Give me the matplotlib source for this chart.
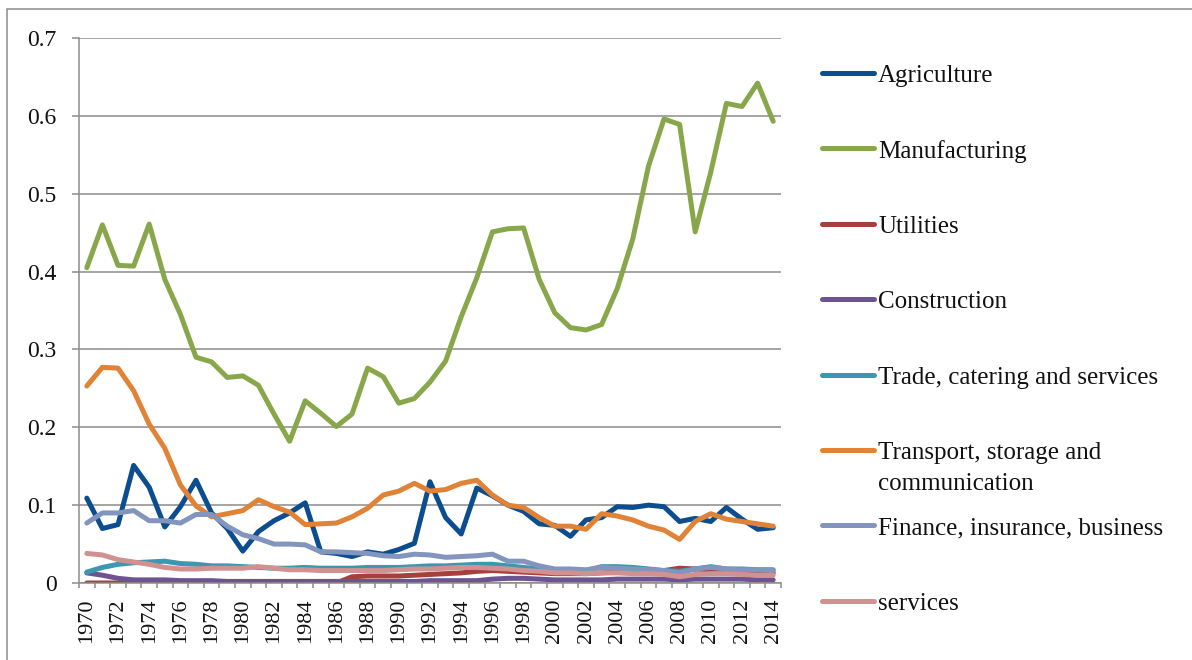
import numpy as np
import matplotlib
matplotlib.use("Agg")
import matplotlib.pyplot as plt
from matplotlib.lines import Line2D
from matplotlib.patches import Rectangle

years = list(range(1970, 2015))

agriculture = [0.109, 0.070, 0.075, 0.151, 0.123, 0.072, 0.098, 0.132, 0.090, 0.070,
               0.041, 0.066, 0.080, 0.090, 0.103, 0.040, 0.038, 0.034, 0.040, 0.037,
               0.043, 0.051, 0.130, 0.084, 0.063, 0.122, 0.112, 0.100, 0.092, 0.076,
               0.074, 0.060, 0.081, 0.084, 0.098, 0.097, 0.100, 0.098, 0.079, 0.083,
               0.079, 0.097, 0.082, 0.069, 0.071]
manufacturing = [0.405, 0.460, 0.408, 0.407, 0.461, 0.390, 0.345, 0.290, 0.284, 0.264,
                 0.266, 0.254, 0.217, 0.182, 0.234, 0.218, 0.201, 0.217, 0.276, 0.265,
                 0.231, 0.237, 0.258, 0.285, 0.342, 0.392, 0.451, 0.455, 0.456, 0.390,
                 0.347, 0.328, 0.325, 0.332, 0.378, 0.442, 0.535, 0.596, 0.589, 0.451,
                 0.528, 0.616, 0.612, 0.642, 0.593]
utilities = [0.000, 0.000, 0.000, 0.000, 0.000, 0.000, 0.000, 0.000, 0.000, 0.000,
             0.000, 0.000, 0.000, 0.000, 0.000, 0.000, 0.000, 0.008, 0.009, 0.009,
             0.009, 0.010, 0.011, 0.012, 0.013, 0.015, 0.016, 0.015, 0.014, 0.013,
             0.012, 0.012, 0.012, 0.013, 0.014, 0.014, 0.015, 0.016, 0.019, 0.018,
             0.017, 0.016, 0.015, 0.014, 0.013]
construction = [0.013, 0.010, 0.006, 0.004, 0.004, 0.004, 0.003, 0.003, 0.003, 0.002,
                0.002, 0.002, 0.002, 0.002, 0.002, 0.002, 0.002, 0.002, 0.002, 0.002,
                0.002, 0.002, 0.003, 0.003, 0.003, 0.003, 0.005, 0.006, 0.006, 0.005,
                0.004, 0.004, 0.004, 0.004, 0.005, 0.005, 0.005, 0.005, 0.004, 0.005,
                0.005, 0.005, 0.005, 0.004, 0.004]
trade = [0.014, 0.020, 0.024, 0.026, 0.027, 0.028, 0.025, 0.024, 0.022, 0.022,
         0.021, 0.020, 0.019, 0.019, 0.020, 0.019, 0.019, 0.019, 0.020, 0.020,
         0.020, 0.021, 0.022, 0.022, 0.023, 0.024, 0.024, 0.022, 0.020, 0.018,
         0.016, 0.016, 0.016, 0.021, 0.021, 0.020, 0.018, 0.016, 0.015, 0.018,
         0.021, 0.018, 0.018, 0.017, 0.017]
transport = [0.253, 0.277, 0.276, 0.247, 0.204, 0.173, 0.126, 0.099, 0.085, 0.089,
             0.093, 0.107, 0.098, 0.091, 0.075, 0.076, 0.077, 0.085, 0.096, 0.113,
             0.118, 0.128, 0.118, 0.120, 0.128, 0.132, 0.113, 0.100, 0.097, 0.084,
             0.073, 0.073, 0.069, 0.089, 0.086, 0.081, 0.073, 0.068, 0.056, 0.079,
             0.089, 0.082, 0.079, 0.076, 0.073]
finance = [0.077, 0.090, 0.090, 0.093, 0.080, 0.080, 0.077, 0.088, 0.088, 0.073,
           0.062, 0.057, 0.050, 0.050, 0.049, 0.040, 0.040, 0.039, 0.038, 0.035,
           0.034, 0.037, 0.036, 0.033, 0.034, 0.035, 0.037, 0.028, 0.028, 0.022,
           0.018, 0.018, 0.017, 0.020, 0.019, 0.018, 0.017, 0.016, 0.013, 0.018,
           0.020, 0.018, 0.017, 0.017, 0.016]
services = [0.038, 0.036, 0.030, 0.027, 0.024, 0.020, 0.018, 0.018, 0.019, 0.019,
            0.019, 0.021, 0.019, 0.017, 0.017, 0.016, 0.016, 0.016, 0.016, 0.016,
            0.017, 0.018, 0.018, 0.019, 0.020, 0.020, 0.019, 0.018, 0.016, 0.015,
            0.013, 0.013, 0.012, 0.013, 0.013, 0.012, 0.012, 0.011, 0.008, 0.011,
            0.012, 0.012, 0.011, 0.010, 0.010]

names = ["Agriculture", "Manufacturing", "Utilities", "Construction",
         "Trade, catering and services", "Transport, storage and\ncommunication",
         "Finance, insurance, business", "services"]
colors = ["#0b4d8e", "#88a74a", "#a6403c", "#6d5491",
          "#3b98ae", "#e18336", "#8295bf", "#d19191"]
series = [agriculture, manufacturing, utilities, construction,
          trade, transport, finance, services]

plt.rcParams['font.family'] = ['Liberation Serif', 'DejaVu Serif']
W, H = 1192, 660
fig = plt.figure(figsize=(W / 100, H / 100), dpi=100)
ax = fig.add_axes([79 / W, 77 / H, 702 / W, 545 / H])

grid_c = "#8c8c8c"
for s, c in zip(series, colors):
    ax.plot(years, s, color=c, lw=3.6, solid_capstyle='round', solid_joinstyle='round')

ax.set_xlim(years[0] - 0.5, years[-1] + 0.5)
ax.set_ylim(0, 0.7)
ax.set_yticks(np.arange(0, 0.71, 0.1))
ax.set_yticklabels(["0", "0.1", "0.2", "0.3", "0.4", "0.5", "0.6", "0.7"])
ax.set_xticks(years[::2])
ax.set_xticks(np.arange(years[0] - 0.5, years[-1] + 1), minor=True)
ax.tick_params(axis='x', which='major', length=0, pad=11, labelrotation=90,
               labelsize=16, labelcolor="#111111")
ax.tick_params(axis='x', which='minor', length=3.6, width=1.1, color=grid_c)
ax.tick_params(axis='y', length=5, width=1.1, color=grid_c, pad=11,
               labelsize=17, labelcolor="#111111")
ax.grid(axis='y', color=grid_c, lw=1.1)
ax.set_axisbelow(True)
for side in ['top', 'right']:
    ax.spines[side].set_visible(False)
for side in ['left', 'bottom']:
    ax.spines[side].set_color(grid_c)
    ax.spines[side].set_linewidth(1.1)

# legend drawn by hand: Excel places entries on even slots
for i, (name, c) in enumerate(zip(names, colors)):
    yp = (H - 73 - i * 75.4) / H
    fig.add_artist(Line2D([822 / W, 874 / W], [yp, yp], transform=fig.transFigure,
                          color=c, lw=3.6, solid_capstyle='round'))
    fig.text(878 / W, yp + 8 / H, name, va='top', ha='left', fontsize=18,
             color="#111111", linespacing=1.5)

fig.add_artist(Rectangle((7 / W, -0.1), 1.2, (H - 9) / H + 0.1, transform=fig.transFigure,
                         fill=False, edgecolor="#8c8c8c", lw=1.1))

fig.savefig("out.png", dpi=100)
